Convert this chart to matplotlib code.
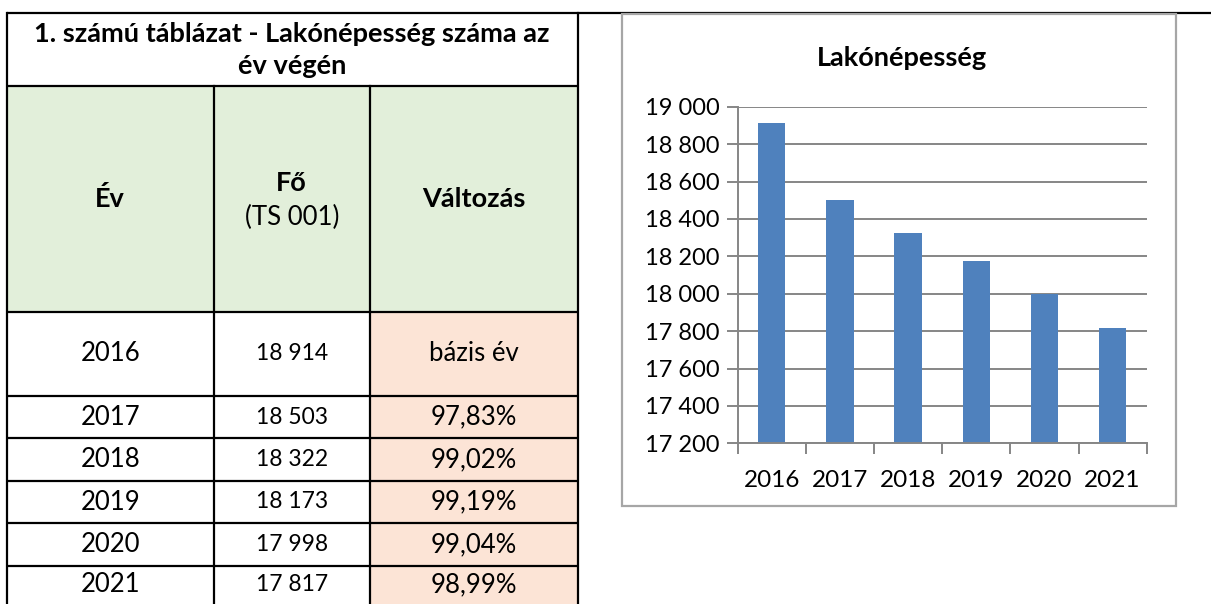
import matplotlib
matplotlib.use("Agg")
import matplotlib.pyplot as plt
from matplotlib.patches import Rectangle
from matplotlib.ticker import FuncFormatter, FixedLocator

plt.rcParams['font.family'] = ['Lato', 'DejaVu Sans']

# ---- data ----
years = ["2016", "2017", "2018", "2019", "2020", "2021"]
population = [18914, 18503, 18322, 18173, 17998, 17817]
change_pct = [None, 97.83, 99.02, 99.19, 99.04, 98.99]
base_label = "bázis év"
table_title = "1. számú táblázat - Lakónépesség száma az\név végén"
col_headers = ["Év", "Fő", "Változás"]
col_sub = "(TS 001)"
chart_title = "Lakónépesség"
y_ticks = [17200, 17400, 17600, 17800, 18000, 18200, 18400, 18600, 18800, 19000]

W, H = 1211, 604
fig = plt.figure(figsize=(W / 100, H / 100), dpi=100)

def fmt_thousands(v):
    return f"{int(round(v)):,}".replace(",", " ")

# ---- background canvas in pixel coordinates ----
bg = fig.add_axes([0, 0, 1, 1])
bg.set_xlim(0, W)
bg.set_ylim(H, 0)
bg.axis("off")

green = "#E2EFDA"
pink = "#FCE4D6"
lw = 1.6

col_x = [7, 213.5, 370, 577.5]
y_top, y_title, y_head = 13, 85.5, 311.7
row_y = [y_head, 396, 438.4, 480.8, 523.2, 565.6, 608]

# fills
bg.add_patch(Rectangle((col_x[0], y_title), col_x[3] - col_x[0], y_head - y_title,
                       facecolor=green, edgecolor="none", zorder=1))
for i in range(len(years)):
    bg.add_patch(Rectangle((col_x[2], row_y[i]), col_x[3] - col_x[2], row_y[i + 1] - row_y[i],
                           facecolor=pink, edgecolor="none", zorder=1))

# lines
bg.plot([col_x[0], W], [y_top, y_top], color="black", lw=lw, zorder=2, solid_capstyle="butt")
for y in [y_title] + row_y[:-1]:
    bg.plot([col_x[0], col_x[3]], [y, y], color="black", lw=lw, zorder=2, solid_capstyle="butt")
bg.plot([col_x[0], col_x[0]], [y_top, H + 5], color="black", lw=lw, zorder=2)
bg.plot([col_x[3], col_x[3]], [y_top, H + 5], color="black", lw=lw, zorder=2)
for x in col_x[1:3]:
    bg.plot([x, x], [y_title, H + 5], color="black", lw=lw, zorder=2)

fs = 18.5
fsb = 19.5
# title
bg.text((col_x[0] + col_x[3]) / 2, 50, table_title, ha="center", va="center",
        multialignment="center", fontsize=fsb, fontweight="bold", linespacing=1.45, zorder=3)
# headers
cx = [(col_x[i] + col_x[i + 1]) / 2 for i in range(3)]
hy = (y_title + y_head) / 2
bg.text(cx[0], hy, col_headers[0], ha="center", va="center", fontsize=fsb, fontweight="bold", zorder=3)
bg.text(cx[1], hy - 16, col_headers[1], ha="center", va="center", fontsize=fsb, fontweight="bold", zorder=3)
bg.text(cx[1], hy + 19, col_sub, ha="center", va="center", fontsize=fs, zorder=3)
bg.text(cx[2], hy, col_headers[2], ha="center", va="center", fontsize=fsb, fontweight="bold", zorder=3)
# rows
for i, (yr, pop, ch) in enumerate(zip(years, population, change_pct)):
    ry = (row_y[i] + row_y[i + 1]) / 2 + (0 if i < 5 else -2)
    bg.text(cx[0], ry, yr, ha="center", va="center", fontsize=fs, zorder=3)
    bg.text(cx[1], ry, fmt_thousands(pop), ha="center", va="center", fontsize=16.5, zorder=3)
    lab = base_label if ch is None else f"{ch:.2f}%".replace(".", ",")
    bg.text(cx[2], ry, lab, ha="center", va="center", fontsize=fs, zorder=3)

# chart box
bx0, bx1, by0, by1 = 622, 1176, 13.5, 506
bg.add_patch(Rectangle((bx0, by0), bx1 - bx0, by1 - by0, facecolor="white",
                       edgecolor="#A6A6A6", lw=1.6, zorder=4))
bg.text((bx0 + bx1) / 2 + 3, 58, chart_title, ha="center", va="center",
        fontsize=19.5, fontweight="bold", zorder=5)

# ---- bar chart ----
px0, px1, py0, py1 = 737.7, 1146.7, 106.7, 443.3
ax = fig.add_axes([px0 / W, 1 - py1 / H, (px1 - px0) / W, (py1 - py0) / H])
ax.set_zorder(6)
ax.patch.set_alpha(0)
xs = list(range(len(years)))
ax.bar(xs, population, width=0.4, color="#4F81BD", zorder=2)
ax.set_xlim(-0.5, len(years) - 0.5)
ax.set_ylim(y_ticks[0], y_ticks[-1])
ax.set_yticks(y_ticks)
ax.yaxis.set_major_formatter(FuncFormatter(lambda v, p: fmt_thousands(v)))
ax.grid(axis="y", color="#868686", lw=1.4, zorder=0)
ax.set_axisbelow(True)
# x: labels centered, ticks at boundaries
ax.xaxis.set_major_locator(FixedLocator([x - 0.5 for x in xs] + [len(xs) - 0.5]))
ax.xaxis.set_major_formatter(FuncFormatter(lambda v, p: ""))
ax.xaxis.set_minor_locator(FixedLocator(xs))
ax.set_xticklabels(years, minor=True)
ax.tick_params(axis="x", which="major", direction="out", length=8, width=1.4, color="#868686")
ax.tick_params(axis="x", which="minor", length=0, labelsize=17.5, pad=19)
ax.tick_params(axis="y", direction="out", length=8, width=1.4, color="#868686", labelsize=17, pad=5)
for s in ["top", "right"]:
    ax.spines[s].set_visible(False)
for s in ["left", "bottom"]:
    ax.spines[s].set_color("#868686")
    ax.spines[s].set_linewidth(1.4)

fig.savefig("out.png", dpi=100)
